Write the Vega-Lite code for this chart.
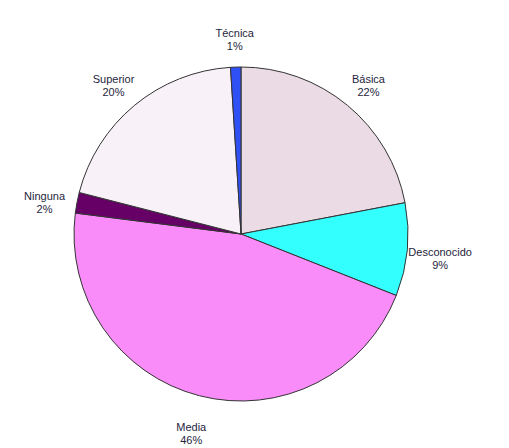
{
  "$schema": "https://vega.github.io/schema/vega-lite/v6.json",
  "autosize": "none",
  "padding": {"left": 91, "top": 84, "right": 118, "bottom": 64},
  "width": 300,
  "height": 300,
  "background": "white",
  "view": {"stroke": null},
  "data": {
    "values": [
      {"nivel": "Básica", "pct": 22, "label": "Básica\n22%"},
      {"nivel": "Desconocido", "pct": 9, "label": "Desconocido\n9%"},
      {"nivel": "Media", "pct": 46, "label": "Media\n46%"},
      {"nivel": "Ninguna", "pct": 2, "label": "Ninguna\n2%"},
      {"nivel": "Superior", "pct": 20, "label": "Superior\n20%"},
      {"nivel": "Técnica", "pct": 1, "label": "Técnica\n1%"}
    ]
  },
  "encoding": {
    "theta": {"field": "pct", "type": "quantitative", "stack": true},
    "color": {
      "field": "nivel",
      "type": "nominal",
      "sort": ["Básica", "Desconocido", "Media", "Ninguna", "Superior", "Técnica"],
      "scale": {
        "domain": ["Básica", "Desconocido", "Media", "Ninguna", "Superior", "Técnica"],
        "range": ["#ebdbe4", "#33ffff", "#fa8cfa", "#660066", "#f8f1f8", "#2f50f5"]
      },
      "legend": null
    }
  },
  "layer": [
    {
      "mark": {"type": "arc", "outerRadius": 167, "stroke": "#333333", "strokeWidth": 1}
    },
    {
      "mark": {"type": "text", "radius": 200, "font": "Liberation Sans", "fontSize": 11, "lineBreak": "\n", "lineHeight": 13, "align": "center", "baseline": "middle"},
      "encoding": {
        "text": {"field": "label", "type": "nominal"},
        "color": {"value": "#1e1e3c"}
      }
    }
  ]
}
